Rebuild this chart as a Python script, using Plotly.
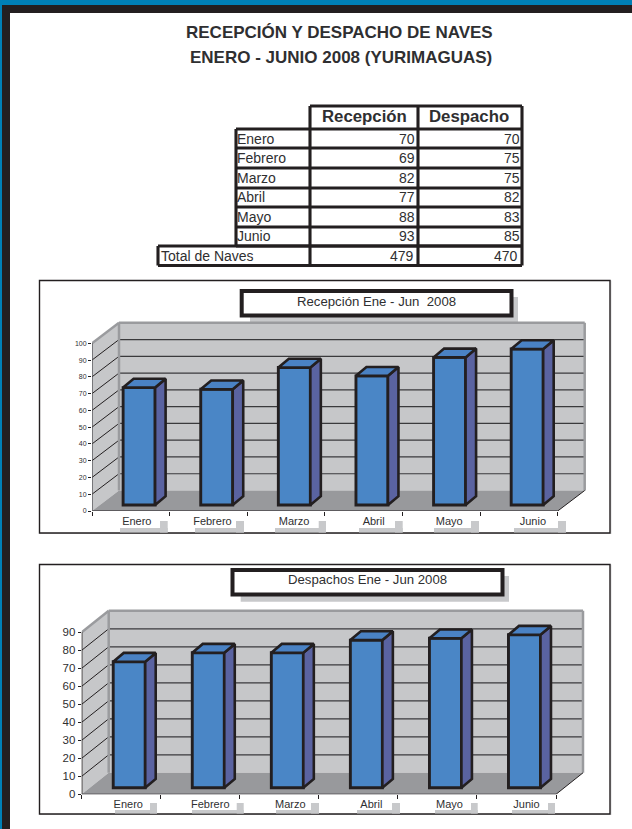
import plotly.graph_objects as go

MONTHS = ["Enero", "Febrero", "Marzo", "Abril", "Mayo", "Junio"]
RECEPCION = [70, 69, 82, 77, 88, 93]
DESPACHO = [70, 75, 75, 82, 83, 85]
TOTAL_LABEL = "Total de Naves"
TOTAL_RECEPCION = 479
TOTAL_DESPACHO = 470
TICKS_REC = [0, 10, 20, 30, 40, 50, 60, 70, 80, 90, 100]
TICKS_DES = [0, 10, 20, 30, 40, 50, 60, 70, 80, 90]

W, H = 632, 829
FIG_H = 835
DARK = "#231f20"
TEXT = "#2f2f31"
WALL = "#c6c7c9"
EDGE = "#9a9b9e"
FLOOR = "#98999c"
SHADOW = "#c8c9cb"
FRONT = "#4a86c6"
SIDE = "#5a63a1"
TOP = "#4a82c4"
FONT = "Liberation Sans, Arial, sans-serif"


def px(x):
    return x / W


def py(y):
    return 1 - y / H


shapes = []
annotations = []


def prect(x0, y0, x1, y1, fill=None, line=None, lw=0):
    shapes.append(dict(type="rect", xref="paper", yref="paper", layer="below",
                       x0=px(x0), x1=px(x1), y0=py(y1), y1=py(y0),
                       fillcolor=fill or "rgba(0,0,0,0)",
                       line=dict(color=line or "rgba(0,0,0,0)", width=lw)))


def pline(x0, y0, x1, y1, color=DARK, lw=3.1):
    shapes.append(dict(type="line", xref="paper", yref="paper", layer="below",
                       x0=px(x0), x1=px(x1), y0=py(y0), y1=py(y1),
                       line=dict(color=color, width=lw)))


def ptext(x, y, text, size, anchor="center", bold=False, color=TEXT):
    annotations.append(dict(xref="paper", yref="paper", x=px(x), y=py(y),
                            text=f"<b>{text}</b>" if bold else text,
                            showarrow=False, xanchor=anchor, yanchor="middle",
                            align=anchor, borderpad=0, borderwidth=0,
                            font=dict(family=FONT, size=size, color=color)))


# page frame
prect(0, 0, W, 5, fill="#0080b6")
prect(0, 0, 2, H + 6, fill="#0080b6")
prect(2, 5, W, 13, fill=DARK)
prect(2, 5, 10, H + 6, fill=DARK)

# heading
ptext(339, 33, "RECEPCIÓN Y DESPACHO DE NAVES", 17, bold=True)
ptext(341, 57, "ENERO - JUNIO 2008 (YURIMAGUAS)", 17, bold=True)

# table
row_y = [129, 148, 168, 188, 207, 227, 246]
top_y, bot_y, tot_x = 106, 265.5, 158
pline(310, top_y, 522, top_y)
for y in row_y:
    pline(236, y, 522, y)
pline(tot_x, 246, 522, 246)
pline(tot_x, bot_y, 522, bot_y)
pline(tot_x, 246, tot_x, bot_y)
pline(236, 129, 236, 246)
pline(310, top_y, 310, bot_y)
pline(418, top_y, 418, bot_y)
pline(522, top_y, 522, bot_y)
ptext(364, 117, "Recepción", 16.8, bold=True)
ptext(469, 117, "Despacho", 16.8, bold=True)
row_c = [139, 158, 178, 197, 217, 236]
for m, r, d, y in zip(MONTHS, RECEPCION, DESPACHO, row_c):
    ptext(237, y, m, 14, "left")
    ptext(415.5, y, str(r), 14, "right")
    ptext(519.5, y, str(d), 14, "right")
ptext(161, 255.5, TOTAL_LABEL, 14, "left")
ptext(414, 255.5, str(TOTAL_RECEPCION), 14, "right")
ptext(518, 255.5, str(TOTAL_DESPACHO), 14, "right")

fig = go.Figure()


def chart(n, values, ticks, title, g):
    xname = "x" if n == 1 else f"x{n}"
    yname = "y" if n == 1 else f"y{n}"
    ux = (g["x1"] - g["x0"]) / len(values)
    uy = (g["y0"] - g["ytop"]) / ticks[-1]
    xmax = (g["xlim"] - g["x0"]) / ux
    ymax = (g["y0"] - g["ylim"]) / uy
    depth_x = g["dx"] / ux
    depth_y = g["dy"] / uy
    xr, yr = xname, yname

    # frame and title box
    prect(g["fx0"], g["fy0"], g["fx1"] + 1.5, g["fy1"] + 1, fill="#d9dadb")
    prect(g["fx0"], g["fy0"], g["fx1"], g["fy1"], fill="white", line=DARK, lw=1.4)
    bx = g["box"]
    prect(bx[4], bx[1] + 6, bx[5], bx[6], fill=SHADOW)

    def poly(points, fill, line=None, lw=0):
        path = "M " + " L ".join(f"{a},{b}" for a, b in points) + " Z"
        shapes.append(dict(type="path", xref=xr, yref=yr, layer="below", path=path,
                           fillcolor=fill, line=dict(color=line or "rgba(0,0,0,0)", width=lw)))

    def seg(a, b, c, d, color=DARK, lw=1.2):
        shapes.append(dict(type="line", xref=xr, yref=yr, layer="below",
                           x0=a, y0=b, x1=c, y1=d, line=dict(color=color, width=lw)))

    n_c = len(values)
    t = ticks[-1]
    poly([(0, 0), (depth_x, depth_y), (depth_x, t + depth_y), (0, t)], WALL)
    poly([(depth_x, depth_y), (n_c + depth_x, depth_y), (n_c + depth_x, t + depth_y), (depth_x, t + depth_y)], WALL)
    poly([(0, 0), (depth_x, depth_y), (n_c + depth_x, depth_y), (n_c, 0)], FLOOR)
    for v in ticks[1:-1]:
        seg(depth_x, v + depth_y, n_c + depth_x, v + depth_y, "#3a3a3c", 1.2)
    for v in ticks[1:-1]:
        seg(0, v, depth_x, v + depth_y, DARK, 1.0)
    seg(depth_x, depth_y, depth_x, t + depth_y, EDGE, 2.5)
    seg(n_c + depth_x, depth_y, n_c + depth_x, t + depth_y, EDGE, 2.5)
    seg(depth_x, t + depth_y, n_c + depth_x, t + depth_y, EDGE, 2.5)
    seg(0, t, depth_x, t + depth_y, EDGE, 2.5)
    seg(0, 0, n_c, 0, DARK, 1.2)
    seg(n_c, 0, n_c + depth_x, depth_y, DARK, 1.0)
    seg(0, 0, 0, t, DARK if n == 2 else "#555558", 1.4)

    # bars: front face from the axes, the other two faces offset from it
    off_x = g["bar_dx"] / ux
    off_y = g["bar_dy"] / uy
    bw = g["bar_w"] / ux
    side_x = g["side_dx"] / ux
    side_y = g["side_dy"] / uy
    centers = [i + 0.5 + off_x for i in range(n_c)]
    fig.add_trace(go.Bar(x=centers, y=values, base=off_y, width=bw, xaxis=xname, yaxis=yname,
                         marker=dict(color=FRONT, line=dict(color=DARK, width=2.9)),
                         showlegend=False, hoverinfo="y"))
    sx, sy, tx, ty = [], [], [], []
    for c, v in zip(centers, values):
        r, l = c + bw / 2, c - bw / 2
        b, u = off_y, off_y + v
        sx += [r, r + side_x, r + side_x, r, r, None]
        sy += [b, b + side_y, u + side_y, u, b, None]
        tx += [l, l + side_x, r + side_x, r, l, None]
        ty += [u, u + side_y, u + side_y, u, u, None]
    for xs, ys, col in ((sx, sy, SIDE), (tx, ty, TOP)):
        fig.add_trace(go.Scatter(x=xs, y=ys, mode="lines", fill="toself", fillcolor=col,
                                 line=dict(color=DARK, width=2.6), xaxis=xname, yaxis=yname,
                                 showlegend=False, hoverinfo="skip"))

    # title box over the shadow
    prect(bx[0], bx[1], bx[2], bx[3], fill="white", line=DARK, lw=4)
    ptext(g["tx"], g["ty"], title, g["tsize"])

    # label shadows
    for (a, b, c) in g["lab_sh"]:
        prect(a, g["sh_y"], b, g["fy1"] - 0.5, fill=SHADOW)
        prect(c, g["sh_top"], b, g["fy1"] - 0.5, fill=SHADOW)

    lab_pos = [i + 0.5 + o / ux for i, o in enumerate(g["lab_off"])]
    axes = dict(
        xaxis=dict(domain=[px(g["x0"]), px(g["xlim"])], range=[0, xmax], anchor=yname,
                   showgrid=False, zeroline=False, showline=False,
                   tickmode="array", tickvals=lab_pos, ticktext=MONTHS, ticks="", ticklen=0,
                   tickfont=dict(family=FONT, size=11, color=TEXT), fixedrange=True,
                   ticklabelstandoff=g["standoff"],
                   minor=dict(ticks="outside", ticklen=4, tickwidth=1, tickcolor=DARK,
                              tickmode="linear", tick0=0, dtick=1, showgrid=False)),
        yaxis=dict(domain=[py(g["y0"]), py(g["ylim"])], range=[0, ymax], anchor=xname,
                   showgrid=False, zeroline=False, showline=False,
                   tickmode="array", tickvals=ticks, ticks="outside", ticklen=3, tickwidth=1,
                   tickcolor=DARK, tickfont=dict(family=FONT, size=g["ysize"], color=TEXT),
                   fixedrange=True),
    )
    fig.update_layout(**{("xaxis" if n == 1 else f"xaxis{n}"): axes["xaxis"],
                         ("yaxis" if n == 1 else f"yaxis{n}"): axes["yaxis"]})


chart(1, RECEPCION, TICKS_REC, "Recepción Ene - Jun  2008", dict(
    x0=92, x1=557.7, y0=511, ytop=343.3, xlim=592, ylim=316,
    dx=27, dy=20.5, bar_dx=8.3, bar_dy=6, bar_w=32, side_dx=10.5, side_dy=8.8,
    fx0=39.5, fy0=280.5, fx1=610, fy1=533,
    box=(241.7, 291, 511.5, 315.5, 250, 518, 322),
    tx=376.5, ty=301, tsize=13.2,
    ysize=7, sh_y=528, sh_top=521, standoff=2,
    lab_off=[6, 4, 8, 10, 8, 14],
    lab_sh=[(120, 167.7, 160), (195, 244, 236), (275, 326, 318.7),
            (359, 402.7, 395), (434, 479, 471), (514, 566, 558)],
))

chart(2, DESPACHO, TICKS_DES, "Despachos Ene - Jun 2008", dict(
    x0=81.7, x1=556, y0=794.3, ytop=632.3, xlim=590, ylim=605,
    dx=27, dy=21.5, bar_dx=8, bar_dy=6.6, bar_w=32, side_dx=10.5, side_dy=8.8,
    fx0=39.5, fy0=564.5, fx1=610, fy1=814,
    box=(232.5, 570, 502.5, 594.5, 240.7, 509, 601.7),
    tx=367.5, ty=579.5, tsize=13.2,
    ysize=11.5, sh_y=810, sh_top=803, standoff=2,
    lab_off=[7, 10, 11, 13, 12, 10],
    lab_sh=[(115, 157, 150), (192, 243.7, 236.7), (276, 319, 311),
            (357, 400, 392), (435, 477.7, 471), (512, 555, 548)],
))

fig.update_layout(width=W, height=FIG_H, margin=dict(l=0, r=0, t=0, b=0, pad=0),
                  paper_bgcolor="white", plot_bgcolor="rgba(0,0,0,0)", autosize=False,
                  shapes=shapes, annotations=annotations, showlegend=False, barmode="overlay",
                  font=dict(family=FONT))

fig.write_html("out.html", config=dict(displayModeBar=False, responsive=False),
               post_script="document.body.style.margin='0';")
